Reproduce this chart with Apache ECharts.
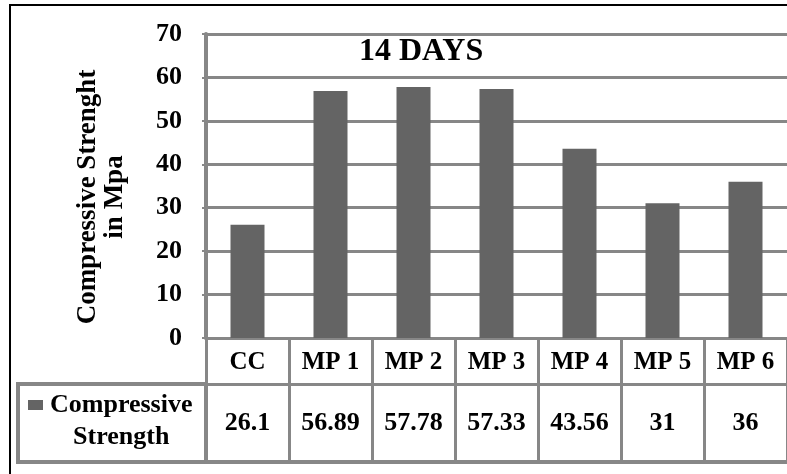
<!DOCTYPE html>
<html>
<head>
<meta charset="utf-8">
<script src="https://cdn.jsdelivr.net/npm/echarts@6/dist/echarts.min.js"></script>
<style>
  html, body { margin: 0; padding: 0; background: #fff; }
  #chart { width: 787px; height: 474px; }
</style>
</head>
<body>
<div id="chart"></div>
<script>
// Mix labels and 14-day compressive strength (MPa)
const categories = ['CC', 'MP 1', 'MP 2', 'MP 3', 'MP 4', 'MP 5', 'MP 6'];
const strength = [26.1, 56.89, 57.78, 57.33, 43.56, 31, 36];
const seriesName = 'Compressive Strength';
const chartTitle = '14 DAYS';
const yTitle = 'Compressive Strenght\nin Mpa';

const FONT = '"Liberation Serif", "Times New Roman", serif';
const GRID_GRAY = '#878787';
const BAR_GRAY = '#646464';

const chart = echarts.init(document.getElementById('chart'), null, { renderer: 'canvas' });

const boldText = (size) => ({
  fontFamily: FONT, fontWeight: 'bold', fontSize: size, color: '#000'
});

chart.setOption({
  animation: false,
  backgroundColor: '#fff',
  title: {
    text: chartTitle,
    left: 359,
    top: 36,
    padding: 0,
    textStyle: boldText(32)
  },
  legend: {
    show: true,
    left: 23,
    top: 392,
    padding: 0,
    icon: 'none',
    itemWidth: 0,
    itemHeight: 0,
    selectedMode: false,
    formatter: (name) => {
      const parts = name.split(' ');
      return '{sq|}{gap|}{a|' + parts[0] + '}\n{pad|}{a|' + parts.slice(1).join(' ') + '}';
    },
    textStyle: {
      ...boldText(26),
      rich: {
        sq: { width: 15, height: 10, backgroundColor: BAR_GRAY },
        gap: { width: 7 },
        pad: { width: 22 },
        a: { ...boldText(26), align: 'center', lineHeight: 32 }
      }
    },
    data: [seriesName]
  },
  grid: {
    left: 206,
    top: 34,
    right: -2,
    bottom: 136,
    containLabel: false
  },
  xAxis: [
    {
      // category row of the data table
      type: 'category',
      data: categories,
      position: 'bottom',
      axisLine: { show: true, lineStyle: { color: GRID_GRAY, width: 3 } },
      axisTick: { show: true, length: 46, alignWithLabel: false, interval: 0,
                  lineStyle: { color: GRID_GRAY, width: 3 } },
      axisLabel: { ...boldText(25), interval: 0, margin: 25, verticalAlign: 'middle' },
      splitLine: { show: false }
    },
    {
      // value row of the data table
      type: 'category',
      data: categories,
      position: 'bottom',
      offset: 46,
      axisLine: { show: true, lineStyle: { color: GRID_GRAY, width: 3 } },
      axisTick: { show: true, length: 78, alignWithLabel: false, interval: 0,
                  lineStyle: { color: GRID_GRAY, width: 3 } },
      axisLabel: { ...boldText(26), interval: 0, margin: 39, verticalAlign: 'middle',
                   formatter: (v, i) => String(strength[i]) },
      splitLine: { show: false }
    },
    {
      // bottom edge of the data table
      type: 'category',
      data: categories,
      position: 'bottom',
      offset: 124,
      axisLine: { show: true, lineStyle: { color: GRID_GRAY, width: 4 } },
      axisTick: { show: false },
      axisLabel: { show: false },
      splitLine: { show: false }
    }
  ],
  yAxis: {
    type: 'value',
    min: 0,
    max: 70,
    interval: 10,
    name: yTitle,
    nameLocation: 'middle',
    nameRotate: 90,
    nameGap: 77,
    nameTextStyle: { ...boldText(27), lineHeight: 27, align: 'center', padding: [0, 22, 0, 0] },
    axisLine: { show: true, lineStyle: { color: GRID_GRAY, width: 4 } },
    axisTick: { show: true, length: 4, lineStyle: { color: GRID_GRAY, width: 2 } },
    axisLabel: { ...boldText(26), margin: 24 },
    splitLine: { show: true, lineStyle: { color: GRID_GRAY, width: 3 } }
  },
  series: [
    {
      name: seriesName,
      type: 'bar',
      xAxisIndex: 0,
      data: strength,
      barWidth: 34,
      itemStyle: { color: BAR_GRAY }
    }
  ],
  graphic: [
    {
      // outer chart frame
      type: 'rect',
      z: -1,
      silent: true,
      shape: { x: 10, y: 5, width: 800, height: 500 },
      style: { fill: 'none', stroke: '#000', lineWidth: 2 }
    },
    {
      // legend cell of the data table
      type: 'rect',
      silent: true,
      shape: { x: 18, y: 384, width: 188, height: 78 },
      style: { fill: 'none', stroke: GRID_GRAY, lineWidth: 4 }
    }
  ]
});
</script>
</body>
</html>
